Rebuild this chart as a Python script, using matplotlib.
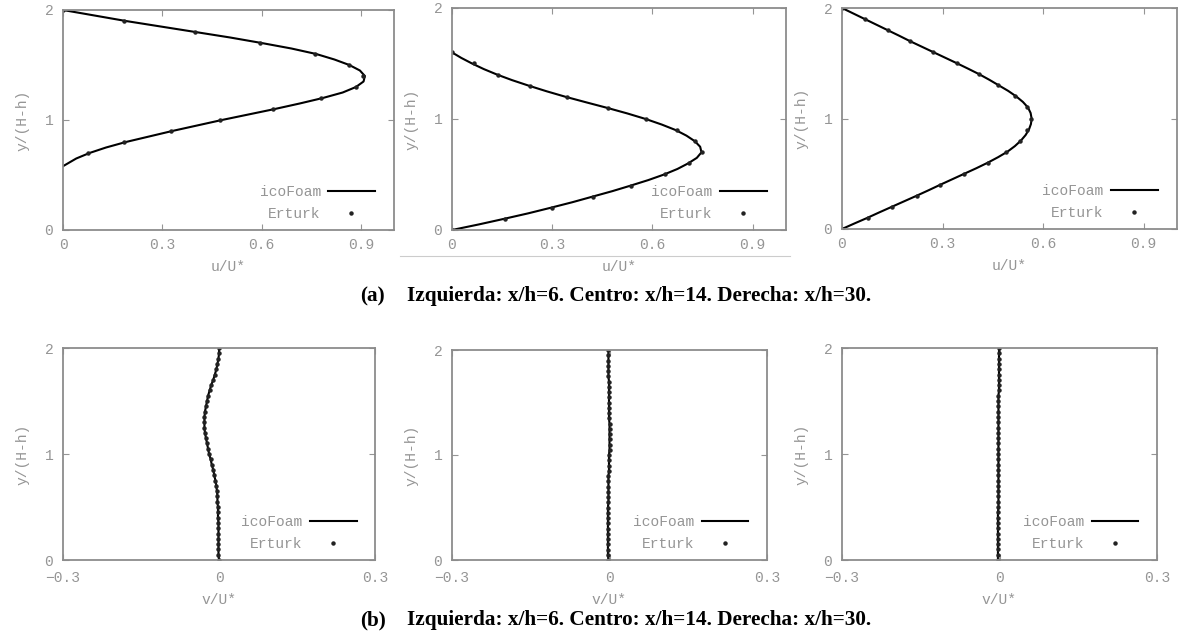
import numpy as np
import matplotlib.pyplot as plt
from matplotlib.lines import Line2D

# ---- data ----
# top row: u/U* profiles against y/(H-h)
# x/h = 6
y_a1 = [0.58, 0.65, 0.7, 0.75, 0.8, 0.85, 0.9, 0.95, 1.0, 1.05, 1.1, 1.15, 1.2, 1.25, 1.3, 1.35, 1.4,
        1.45, 1.5, 1.55, 1.6, 1.65, 1.7, 1.75, 1.8, 1.85, 1.9, 1.95, 2.0]
u_a1 = [0.0, 0.04, 0.08, 0.13, 0.19, 0.26, 0.33, 0.405, 0.48, 0.56, 0.64, 0.715, 0.785, 0.845, 0.885,
        0.908, 0.912, 0.897, 0.865, 0.82, 0.765, 0.69, 0.60, 0.505, 0.40, 0.295, 0.19, 0.095, 0.0]
ye_a1 = [0.7, 0.8, 0.9, 1.0, 1.1, 1.2, 1.3, 1.4, 1.5, 1.6, 1.7, 1.8, 1.9, 2.0]
ue_a1 = [0.075, 0.185, 0.325, 0.475, 0.635, 0.78, 0.885, 0.905, 0.865, 0.76, 0.595, 0.40, 0.185, 0.0]

# x/h = 14
y_a2 = [0.0, 0.05, 0.1, 0.15, 0.2, 0.25, 0.3, 0.35, 0.4, 0.45, 0.5, 0.55, 0.6, 0.65, 0.7, 0.75, 0.8,
        0.85, 0.9, 0.95, 1.0, 1.05, 1.1, 1.15, 1.2, 1.25, 1.3, 1.35, 1.4, 1.45, 1.5, 1.55, 1.6]
u_a2 = [0.0, 0.08, 0.155, 0.228, 0.295, 0.36, 0.42, 0.48, 0.535, 0.588, 0.635, 0.675, 0.707, 0.733,
        0.747, 0.743, 0.727, 0.702, 0.67, 0.628, 0.58, 0.525, 0.465, 0.402, 0.34, 0.283, 0.23, 0.18,
        0.135, 0.095, 0.06, 0.028, 0.0]
ye_a2 = [0.0, 0.1, 0.2, 0.3, 0.4, 0.5, 0.6, 0.7, 0.8, 0.9, 1.0, 1.1, 1.2, 1.3, 1.4, 1.5, 1.6]
ue_a2 = [0.0, 0.16, 0.298, 0.421, 0.536, 0.638, 0.711, 0.748, 0.728, 0.673, 0.581, 0.468, 0.343,
         0.235, 0.138, 0.065, 0.0]

# x/h = 30
y_a3 = [0.0, 0.05, 0.1, 0.15, 0.2, 0.25, 0.3, 0.35, 0.4, 0.45, 0.5, 0.55, 0.6, 0.65, 0.7, 0.75, 0.8,
        0.85, 0.9, 0.95, 1.0, 1.05, 1.1, 1.15, 1.2, 1.25, 1.3, 1.35, 1.4, 1.45, 1.5, 1.55, 1.6, 1.65,
        1.7, 1.75, 1.8, 1.85, 1.9, 1.95, 2.0]
u_a3 = [0.0, 0.037, 0.075, 0.111, 0.148, 0.185, 0.222, 0.258, 0.293, 0.329, 0.365, 0.401, 0.435,
        0.466, 0.494, 0.516, 0.534, 0.548, 0.558, 0.564, 0.566, 0.563, 0.555, 0.54, 0.52, 0.496,
        0.468, 0.44, 0.41, 0.377, 0.343, 0.308, 0.273, 0.238, 0.203, 0.17, 0.136, 0.102, 0.068,
        0.034, 0.0]
ye_a3 = [0.0, 0.1, 0.2, 0.3, 0.4, 0.5, 0.6, 0.7, 0.8, 0.9, 1.0, 1.1, 1.2, 1.3, 1.4, 1.5, 1.6, 1.7,
         1.8, 1.9, 2.0]
ue_a3 = [0.0, 0.079, 0.149, 0.223, 0.293, 0.364, 0.437, 0.491, 0.53, 0.551, 0.565, 0.551, 0.516,
         0.466, 0.409, 0.342, 0.273, 0.203, 0.136, 0.069, 0.0]

# bottom row: v/U* profiles, points every 0.05
y_b = [0.0, 0.05, 0.1, 0.15, 0.2, 0.25, 0.3, 0.35, 0.4, 0.45, 0.5, 0.55, 0.6, 0.65, 0.7, 0.75, 0.8,
       0.85, 0.9, 0.95, 1.0, 1.05, 1.1, 1.15, 1.2, 1.25, 1.3, 1.35, 1.4, 1.45, 1.5, 1.55, 1.6, 1.65,
       1.7, 1.75, 1.8, 1.85, 1.9, 1.95, 2.0]
v_b1 = [0.0, -0.001, -0.001, -0.001, -0.001, -0.001, -0.001, -0.001, -0.002, -0.002, -0.002, -0.003,
        -0.003, -0.004, -0.005, -0.007, -0.009, -0.011, -0.014, -0.016, -0.019, -0.021, -0.023, -0.025,
        -0.027, -0.028, -0.028, -0.028, -0.027, -0.025, -0.023, -0.021, -0.018, -0.015, -0.011, -0.008,
        -0.005, -0.003, -0.001, 0.0, 0.0]
v_b2 = [-0.002, -0.003, -0.003, -0.003, -0.003, -0.003, -0.003, -0.003, -0.003, -0.003, -0.003, -0.002,
        -0.002, -0.002, -0.002, -0.002, -0.002, -0.001, -0.001, -0.001, -0.001, 0.0, 0.0, 0.0,
        0.0, 0.0, 0.0, -0.001, -0.001, -0.001, -0.001, -0.001, -0.001, -0.001, -0.001, -0.002,
        -0.002, -0.002, -0.002, -0.002, -0.002]
v_b3 = [-0.003, -0.003, -0.003, -0.003, -0.003, -0.003, -0.003, -0.003, -0.003, -0.003, -0.002, -0.002,
        -0.002, -0.002, -0.002, -0.002, -0.002, -0.002, -0.002, -0.002, -0.002, -0.002, -0.002, -0.002,
        -0.002, -0.002, -0.002, -0.002, -0.002, -0.002, -0.002, -0.002, -0.001, -0.001, -0.001, -0.001,
        -0.001, -0.001, -0.001, -0.001, -0.001]

xt_u = [0, 0.3, 0.6, 0.9]
xt_v = [-0.3, 0, 0.3]
yt = [0, 1, 2]
caption = "Izquierda: x/h=6. Centro: x/h=14. Derecha: x/h=30."

W, H = 1180, 637
fig = plt.figure(figsize=(W / 100, H / 100), dpi=100)
gray = '#959595'
mono = 'Liberation Mono'
fs = 10.5


def rect(l, t, r, b):
    return [l / W, 1 - b / H, (r - l) / W, (b - t) / H]


def style(ax, xlim, xticks, xlabel, pad):
    ax.set_xlim(*xlim)
    ax.set_ylim(0, 2)
    ax.set_xticks(xticks)
    ax.set_xticklabels([('%g' % t).replace('-', '\u2212') for t in xticks], family=mono)
    ax.set_yticks(yt)
    ax.set_yticklabels([str(t) for t in yt], family=mono)
    ax.tick_params(direction='in', top=True, right=True, length=4, width=0.8,
                   color=gray, labelcolor=gray, labelsize=fs)
    ax.tick_params(axis='x', pad=pad)
    ax.tick_params(axis='y', pad=7)
    for s in ax.spines.values():
        s.set_color('#8c8c8c')
        s.set_linewidth(1.3)
    ax.set_xlabel(xlabel, family=mono, color=gray, fontsize=fs, labelpad=6)
    ax.set_ylabel('y/(H-h)', family=mono, color=gray, fontsize=fs, labelpad=11)


def legend(ax, x):
    lg = ax.legend(loc='lower right', bbox_to_anchor=(x, 0.02), frameon=False, markerfirst=False,
                   handlelength=3.2, handletextpad=0.5, borderaxespad=0, borderpad=0.3,
                   labelspacing=0.55, prop={'family': mono, 'size': fs})
    for t in lg.get_texts():
        t.set_color(gray)


top = [rect(63, 10, 394, 230), rect(452, 8, 786, 230), rect(842, 8, 1177, 229)]
bot = [rect(63, 348, 375, 560), rect(452, 350, 767, 560), rect(842, 348, 1157, 560)]

line_kw = dict(color='black', lw=1.5, label='icoFoam')
dot_kw = dict(ls='none', marker='o', ms=2.2, color='#222222', label='Erturk')

for r, u, y, ue, ye in zip(top, [u_a1, u_a2, u_a3], [y_a1, y_a2, y_a3],
                           [ue_a1, ue_a2, ue_a3], [ye_a1, ye_a2, ye_a3]):
    ax = fig.add_axes(r)
    ax.plot(u, y, **line_kw)
    ax.plot(ue, ye, **dot_kw)
    style(ax, (0, 1), xt_u, 'u/U*', 5.5)
    legend(ax, 0.955)

for r, v in zip(bot, [v_b1, v_b2, v_b3]):
    ax = fig.add_axes(r)
    ax.plot(v, y_b, **line_kw)
    ax.plot(v, y_b, **dot_kw)
    style(ax, (-0.3, 0.3), xt_v, 'v/U*', 8)
    legend(ax, 0.955)

# thin separator under the middle top panel
fig.add_artist(Line2D([400 / W, 790 / W], [1 - 256 / H, 1 - 256 / H], color='#cccccc', lw=0.8))

cap_kw = dict(family='Liberation Serif', fontweight='bold', fontsize=15.3, va='center')
fig.text(360 / W, 1 - 296 / H, '(a)', **cap_kw)
fig.text(407 / W, 1 - 296 / H, caption, **cap_kw)
fig.text(360 / W, 1 - 620 / H, '(b)', **cap_kw)
fig.text(407 / W, 1 - 620 / H, caption, **cap_kw)

fig.savefig('out.png', dpi=100, facecolor='white')
